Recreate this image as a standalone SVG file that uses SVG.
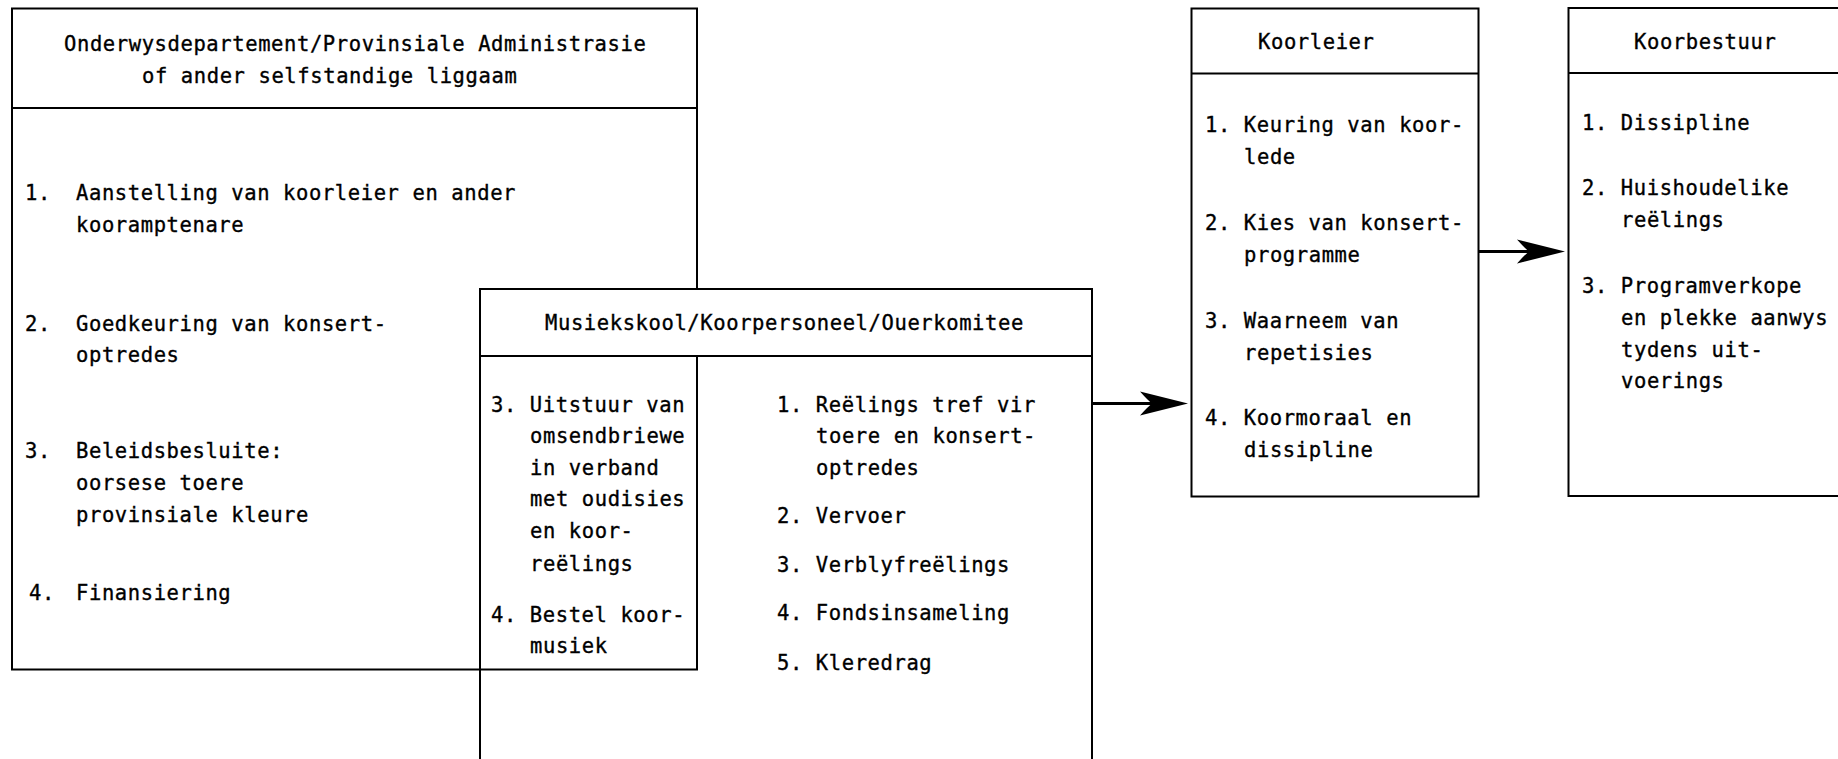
<svg xmlns="http://www.w3.org/2000/svg" width="1838" height="759" viewBox="0 0 1838 759">
<style>
.box{fill:none;stroke:#000;stroke-width:2}
.hdr{fill:#fff;stroke:#000;stroke-width:2}
.sep{stroke:#000;stroke-width:2}
.t{font-family:"DejaVu Sans Mono","Liberation Mono",monospace;font-size:20.5px;letter-spacing:0.6px;fill:#000;stroke:#000;stroke-width:0.35px}
.conn{stroke:#000;stroke-width:3;fill:none}
</style>
<defs>
<marker id="arr" viewBox="-20 -14 52 28" refX="0" refY="0" markerWidth="52" markerHeight="28" markerUnits="userSpaceOnUse" orient="auto">
<path d="M30,0 L-18,-12 Q-10,-3 -6,0 Q-10,3 -18,12 Z" fill="#000"/>
</marker>
</defs>
<rect width="1838" height="759" fill="#fff"/>
<g id="onderwys">
<rect class="box" x="12" y="8.5" width="685" height="661"/>
<line class="sep" x1="12" y1="108" x2="697" y2="108"/>
<text class="t" x="64" y="51">Onderwysdepartement/Provinsiale Administrasie</text>
<text class="t" x="142" y="83">of ander selfstandige liggaam</text>
<text class="t" x="25" y="199.5">1.</text>
<text class="t" x="76" y="199.5">Aanstelling van koorleier en ander</text>
<text class="t" x="76" y="231.5">kooramptenare</text>
<text class="t" x="25" y="331">2.</text>
<text class="t" x="76" y="331">Goedkeuring van konsert-</text>
<text class="t" x="76" y="362">optredes</text>
<text class="t" x="25" y="458">3.</text>
<text class="t" x="76" y="458">Beleidsbesluite:</text>
<text class="t" x="76" y="490">oorsese toere</text>
<text class="t" x="76" y="522">provinsiale kleure</text>
<text class="t" x="29" y="600">4.</text>
<text class="t" x="76" y="600">Finansiering</text>
</g>
<g id="musiekskool">
<rect class="hdr" x="480" y="289" width="612" height="67"/>
<rect class="box" x="480" y="356" width="612" height="410"/>
<text class="t" x="545" y="330">Musiekskool/Koorpersoneel/Ouerkomitee</text>
<text class="t" x="491" y="411.7">3. Uitstuur van</text>
<text class="t" x="530" y="443.3">omsendbriewe</text>
<text class="t" x="530" y="474.5">in verband</text>
<text class="t" x="530" y="506">met oudisies</text>
<text class="t" x="530" y="538">en koor-</text>
<text class="t" x="530" y="571">reëlings</text>
<text class="t" x="491" y="621.5">4. Bestel koor-</text>
<text class="t" x="530" y="653">musiek</text>
<text class="t" x="777" y="411.7">1. Reëlings tref vir</text>
<text class="t" x="816" y="443.3">toere en konsert-</text>
<text class="t" x="816" y="474.5">optredes</text>
<text class="t" x="777" y="523">2. Vervoer</text>
<text class="t" x="777" y="571.5">3. Verblyfreëlings</text>
<text class="t" x="777" y="620">4. Fondsinsameling</text>
<text class="t" x="777" y="670">5. Kleredrag</text>
</g>
<g id="koorleier">
<rect class="box" x="1191.5" y="8.5" width="287" height="488"/>
<line class="sep" x1="1191.5" y1="73.5" x2="1478.5" y2="73.5"/>
<text class="t" x="1258" y="49">Koorleier</text>
<text class="t" x="1205" y="131.5">1. Keuring van koor-</text>
<text class="t" x="1244" y="164">lede</text>
<text class="t" x="1205" y="230">2. Kies van konsert-</text>
<text class="t" x="1244" y="261.5">programme</text>
<text class="t" x="1205" y="328">3. Waarneem van</text>
<text class="t" x="1244" y="360">repetisies</text>
<text class="t" x="1205" y="425">4. Koormoraal en</text>
<text class="t" x="1244" y="456.5">dissipline</text>
</g>
<g id="koorbestuur">
<rect class="box" x="1568.5" y="8" width="280" height="488"/>
<line class="sep" x1="1568.5" y1="73" x2="1848" y2="73"/>
<text class="t" x="1634" y="49">Koorbestuur</text>
<text class="t" x="1582" y="130">1. Dissipline</text>
<text class="t" x="1582" y="195">2. Huishoudelike</text>
<text class="t" x="1621" y="226.5">reëlings</text>
<text class="t" x="1582" y="293">3. Programverkope</text>
<text class="t" x="1621" y="325">en plekke aanwys</text>
<text class="t" x="1621" y="356.5">tydens uit-</text>
<text class="t" x="1621" y="388">voerings</text>
</g>
<g id="connectors">
<line class="conn" x1="1093" y1="403.5" x2="1158" y2="403.5" marker-end="url(#arr)"/>
<line class="conn" x1="1479" y1="251.5" x2="1535" y2="251.5" marker-end="url(#arr)"/>
</g>
</svg>
